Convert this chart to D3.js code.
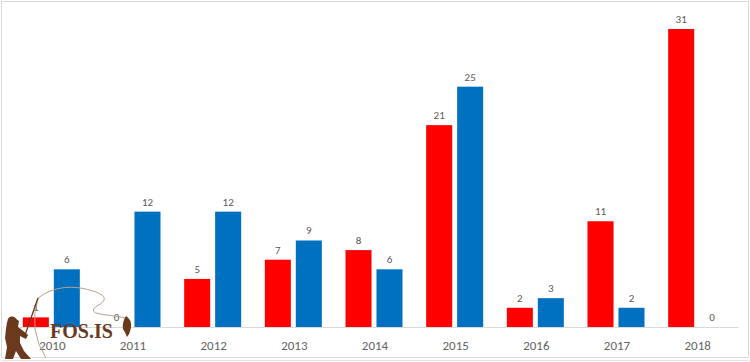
<!DOCTYPE html>
<html>
<head>
<meta charset="utf-8">
<script src="https://cdn.jsdelivr.net/npm/d3@7"></script>
<style>
  body { margin: 0; background: #fff; }
  svg { display: block; }
</style>
</head>
<body>
<figure id="bar" style="margin:0"></figure>
<script>
// chart data
const years = ["2010", "2011", "2012", "2013", "2014", "2015", "2016", "2017", "2018"];
const redValues = [1, 0, 5, 7, 8, 21, 2, 11, 31];
const blueValues = [6, 12, 12, 9, 6, 25, 3, 2, 0];
const seriesKeys = ["red", "blue"];
const seriesColors = { red: "#FF0000", blue: "#0070C0" };

const width = 750;
const height = 362;
const baseY = 327;

const svg = d3.select("figure#bar")
  .append("svg")
  .attr("width", width)
  .attr("height", height);

// frame
svg.append("rect")
  .attr("x", 1.5).attr("y", 1.5)
  .attr("width", width - 3).attr("height", 356)
  .attr("fill", "none")
  .attr("stroke", "#d9d9d9");
svg.append("line")
  .attr("x1", 1).attr("x2", width - 1)
  .attr("y1", 360.5).attr("y2", 360.5)
  .attr("stroke", "#e6e6e6");

const x0 = d3.scaleBand()
  .domain(years)
  .range([12, 738])
  .padding(0);

const groupWidth = 57;
const x1 = d3.scaleBand()
  .domain(seriesKeys)
  .range([0, groupWidth])
  .paddingInner(0.16);

const y = d3.scaleLinear()
  .domain([0, 31])
  .range([baseY, 29]);

const rows = years.map((yr, i) => ({ year: yr, red: redValues[i], blue: blueValues[i] }));

// axis
const xAxis = svg.append("g")
  .attr("transform", "translate(0," + baseY + ")")
  .call(d3.axisBottom(x0).tickSize(0).tickPadding(14));
xAxis.select(".domain").attr("stroke", "#d9d9d9");
xAxis.selectAll("text")
  .attr("fill", "#636363")
  .style("font-family", "Calibri, Carlito, 'Open Sans', sans-serif")
  .style("font-size", "13px");

const groups = svg.selectAll("g.year")
  .data(rows)
  .enter()
  .append("g")
  .attr("class", "year")
  .attr("transform", d => "translate(" + (x0(d.year) + (x0.bandwidth() - groupWidth) / 2 - 1) + ",0)");

groups.selectAll("rect")
  .data(d => seriesKeys.map(k => ({ key: k, value: d[k] })))
  .enter()
  .append("rect")
  .attr("x", d => x1(d.key))
  .attr("width", x1.bandwidth())
  .attr("y", d => y(d.value))
  .attr("height", d => baseY - y(d.value))
  .attr("fill", d => seriesColors[d.key]);

// watermark logo
const logo = svg.append("g").attr("class", "logo");
const brown = "#6B3A1E";

logo.append("path")
  .attr("d", "M38,298 Q62,280 96,292 Q112,298 97,306 Q88,312 100,314 Q115,316 126,318")
  .attr("fill", "none").attr("stroke", "#b9a08f").attr("stroke-width", 1);
logo.append("path")
  .attr("d", "M38,298 Q28,330 46,358")
  .attr("fill", "none").attr("stroke", "#b9a08f").attr("stroke-width", 1);
logo.append("path")
  .attr("d", "M24,338 L38,298")
  .attr("fill", "none").attr("stroke", brown).attr("stroke-width", 1.3);

// fisherman
logo.append("path")
  .attr("d", "M7,322 L15,318 L19,321 L18,327 L22,330 L28,335 L26,339 L20,336 L20,343 L24,351 L31,359 L21,359 L16,351 L13,359 L5,359 L7,347 L5,338 L6,329 Z")
  .attr("fill", brown);
logo.append("circle").attr("cx", 12).attr("cy", 321).attr("r", 4.5).attr("fill", brown);

// fish
logo.append("path")
  .attr("d", "M126,316 Q132,320 131,327 Q130,334 127,337 Q125,332 123,329 Q122,322 126,316 Z")
  .attr("fill", brown);

logo.append("text")
  .attr("x", 50).attr("y", 338)
  .attr("fill", brown)
  .style("font-family", "'Liberation Serif', 'DejaVu Serif', serif")
  .style("font-weight", "bold")
  .style("font-size", "20px")
  .text("FOS.IS");

// value labels drawn last so they stay on top of the logo lines
groups.selectAll("text.val")
  .data(d => seriesKeys.map(k => ({ key: k, value: d[k] })))
  .enter()
  .append("text")
  .attr("class", "val")
  .attr("x", d => x1(d.key) + x1.bandwidth() / 2)
  .attr("y", d => y(d.value) - 6)
  .attr("text-anchor", "middle")
  .attr("fill", "#595959")
  .style("font-family", "Calibri, Carlito, 'Open Sans', sans-serif")
  .style("font-size", "11px")
  .text(d => d.value);
</script>
</body>
</html>
